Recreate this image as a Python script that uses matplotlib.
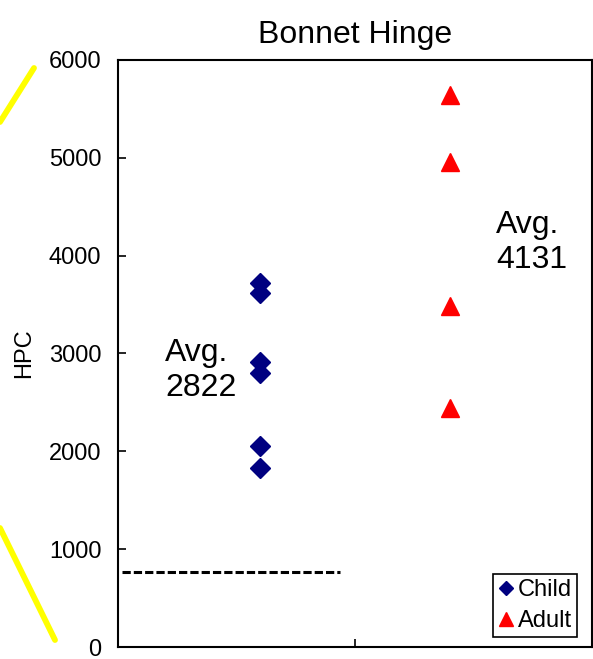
import matplotlib
matplotlib.use("Agg")
import matplotlib.pyplot as plt
from matplotlib.lines import Line2D

plt.rcParams["font.family"] = ["Liberation Sans", "DejaVu Sans"]

# 数据
child_hpc = [3720, 3620, 2915, 2800, 2050, 1827]
adult_hpc = [5645, 4955, 3485, 2440]
child_x = 0.6
adult_x = 1.4
child_avg = 2822
adult_avg = 4131
baseline_hpc = 767
yticks = [0, 1000, 2000, 3000, 4000, 5000, 6000]

fig = plt.figure(figsize=(5.93, 6.59), dpi=100)
ax = fig.add_axes([0.199, 0.0182, 0.7993, 0.891])

ax.plot([child_x] * len(child_hpc), child_hpc, ls="none", marker="D",
        ms=10, color="#000080", label="Child")
ax.plot([adult_x] * len(adult_hpc), adult_hpc, ls="none", marker="^",
        ms=13, color="#FF0000", label="Adult")

# 虚线
ax.plot([0.017, 0.937], [baseline_hpc, baseline_hpc], color="black",
        lw=2.2, dashes=(2.7, 1.0))

ax.text(0.2, child_avg, f"Avg.\n{child_avg}", fontsize=23, va="center",
        ha="left", linespacing=1.22)
ax.text(1.595, adult_avg, f"Avg.\n{adult_avg}", fontsize=23, va="center",
        ha="left", linespacing=1.22)

ax.set_xlim(0, 2)
ax.set_ylim(0, 6000)
ax.set_xticks([1])
ax.set_xticklabels([""])
ax.set_yticks(yticks)
ax.tick_params(axis="both", direction="in", length=6, width=1.2,
               labelsize=17, pad=12)
ax.set_ylabel("HPC", fontsize=17, labelpad=10)
ax.set_title("Bonnet Hinge", fontsize=23, pad=12)
for sp in ax.spines.values():
    sp.set_linewidth(1.5)
    sp.set_color("black")

leg = ax.legend(loc="lower right", bbox_to_anchor=(0.968, 0.017),
                borderaxespad=0, fontsize=17, markerscale=0.75,
                handlelength=0.7, handletextpad=0.15, borderpad=0.2,
                labelspacing=0.4, fancybox=False, framealpha=1)
leg.get_frame().set_edgecolor("black")
leg.get_frame().set_linewidth(1.2)

# 黄色装饰线
W, H = 593, 659
for (x0, y0), (x1, y1) in [((0, 122), (34, 68)), ((0, 528), (55, 640))]:
    fig.add_artist(Line2D([x0 / W, x1 / W], [1 - y0 / H, 1 - y1 / H],
                          transform=fig.transFigure, color="#FFFF00",
                          lw=4.2, solid_capstyle="round"))

fig.savefig("out.png", dpi=100)
